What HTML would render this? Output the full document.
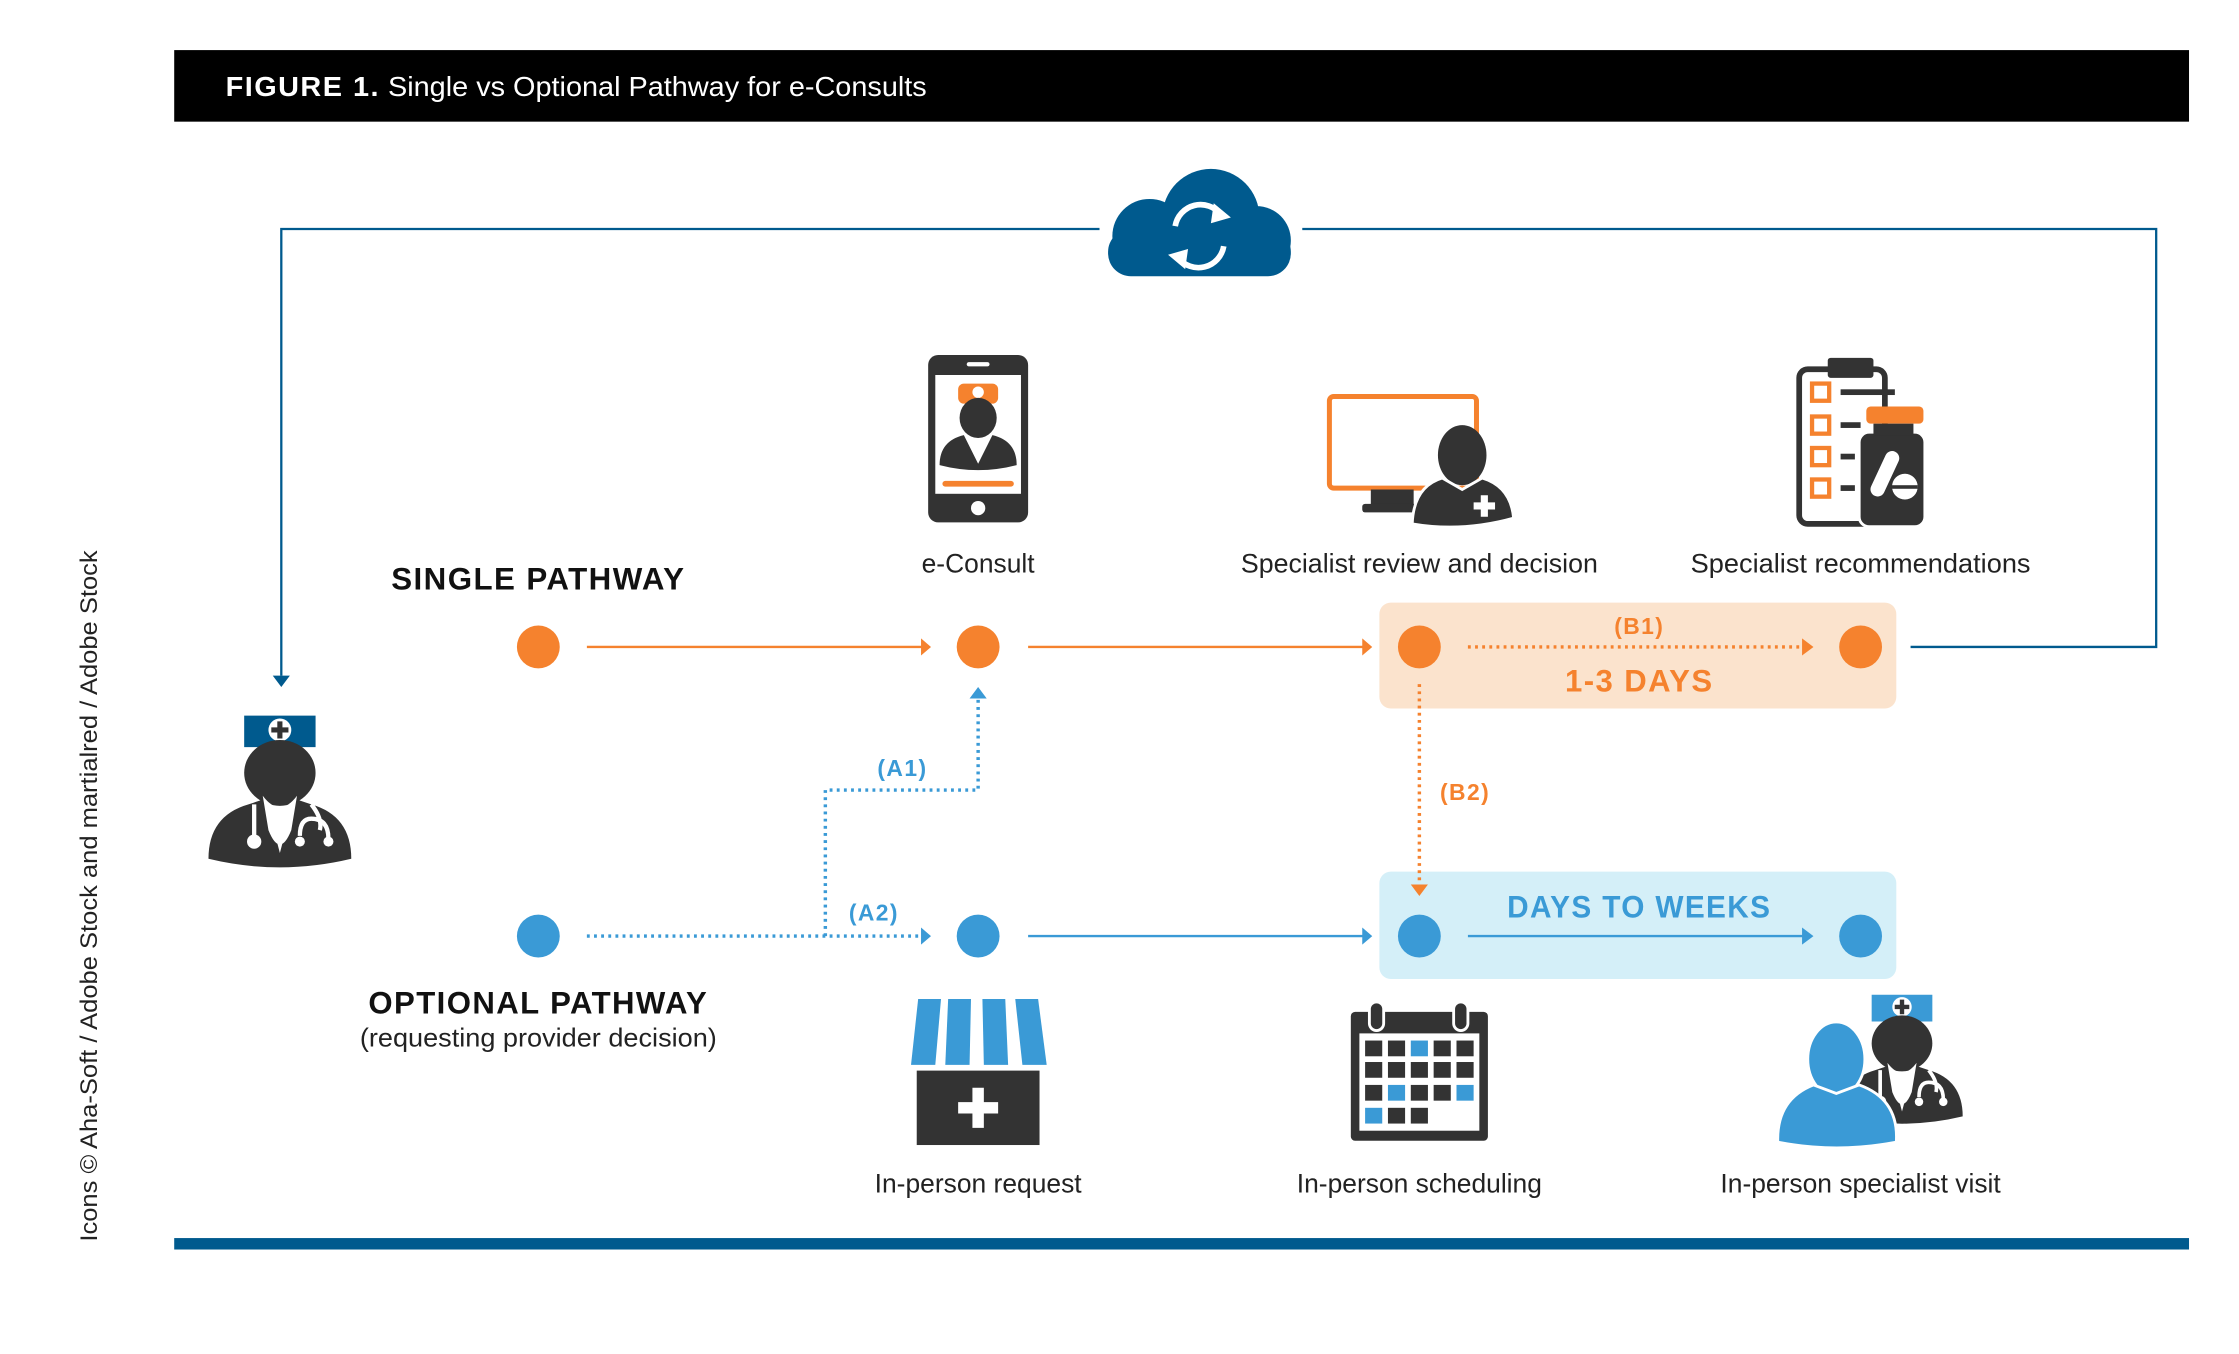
<!DOCTYPE html>
<html><head><meta charset="utf-8"><style>
html,body{margin:0;padding:0;background:#fff;}
svg{display:block;}
text{font-family:"Liberation Sans",sans-serif;}
</style></head><body>
<svg width="2239" height="1354" viewBox="0 0 1568 946" preserveAspectRatio="none" xmlns="http://www.w3.org/2000/svg">
<defs>
<g id="doc">
 <path d="M-25 0 h50 v22 h-50z" fill="var(--cap)"/>
 <circle cx="0" cy="10" r="8" fill="#fff"/>
 <path d="M-1.8 4h3.6v4.2h4.2v3.6h-4.2v4.2h-3.6v-4.2h-4.2v-3.6h4.2z" fill="#333"/>
 <path d="M-50 100 Q-50 70 -22 62 L-10 58 L0 96 L10 58 L22 62 Q50 70 50 100 Q0 112 -50 100z" fill="#333"/>
 <ellipse cx="0" cy="40" rx="25" ry="23" fill="#333"/>
 <path d="M-12 56 Q0 72 12 56 L8 80 Q0 100 -8 80z" fill="#fff"/>
 <path d="M-18 62 v22 M22 62 Q30 72 28 80 M14 84 Q14 72 22 72 Q34 72 34 86" stroke="#fff" stroke-width="3" fill="none"/>
 <circle cx="-18" cy="88" r="5" fill="#fff"/>
 <circle cx="14" cy="88" r="3.5" fill="#fff"/><circle cx="34" cy="88" r="3.5" fill="#fff"/>
</g>
</defs>

<rect x="122" y="35" width="1411" height="50" fill="#000"/>
<text x="158" y="67" fill="#fff" font-size="19.5" textLength="491" lengthAdjust="spacingAndGlyphs"><tspan font-weight="bold" letter-spacing="1">FIGURE 1.</tspan> Single vs Optional Pathway for e-Consults</text>

<rect x="122" y="865" width="1411" height="8" fill="#005a8e"/>

<text transform="translate(68,626) rotate(-90)" text-anchor="middle" font-size="17" fill="#222" textLength="483" lengthAdjust="spacingAndGlyphs">Icons © Aha-Soft / Adobe Stock and martialred / Adobe Stock</text>

<path d="M770 160 H197 V472" stroke="#005a8e" stroke-width="1.6" fill="none"/>
<path d="M191 472 L203 472 L197 480z" fill="#005a8e"/>
<path d="M912 160 H1510 V452 H1338" stroke="#005a8e" stroke-width="1.6" fill="none"/>

<g fill="#005a8e">
 <circle cx="848" cy="152" r="34"/>
 <circle cx="805" cy="165" r="26"/>
 <circle cx="880" cy="168" r="24"/>
 <rect x="776" y="160" width="128" height="33" rx="16"/>
</g>
<g stroke="#fff" stroke-width="4" fill="none">
 <path d="M823 158 A18 18 0 0 1 855 150"/>
 <path d="M857 172 A18 18 0 0 1 825 180"/>
</g>
<path d="M850 142 L862 152 L848 156z" fill="#fff"/>
<path d="M830 188 L818 178 L832 174z" fill="#fff"/>

<rect x="966" y="421" width="362" height="74" rx="8" fill="#fbe3cd"/>
<rect x="966" y="609" width="362" height="75" rx="8" fill="#d4eff8"/>

<text x="377" y="412" text-anchor="middle" font-size="22" font-weight="bold" letter-spacing="1" fill="#111" textLength="206" lengthAdjust="spacingAndGlyphs">SINGLE PATHWAY</text>
<g stroke="#f5822e" stroke-width="1.6" fill="none">
 <path d="M411 452 H646"/><path d="M720 452 H955"/>
 <path d="M1028 452 H1264" stroke-dasharray="2 3" stroke-width="2.4"/>
 <path d="M994 478 V616" stroke-dasharray="2 3" stroke-width="2.4"/>
</g>
<g fill="#f5822e">
 <path d="M645 446 L652 452 L645 458z"/><path d="M954 446 L961 452 L954 458z"/><path d="M1262 446 L1270 452 L1262 458z"/>
 <path d="M988 618 L1000 618 L994 626z"/>
 <circle cx="377" cy="452" r="15"/><circle cx="685" cy="452" r="15"/><circle cx="994" cy="452" r="15"/><circle cx="1303" cy="452" r="15"/>
</g>
<text x="1148" y="443" text-anchor="middle" font-size="16" font-weight="bold" fill="#f5822e" letter-spacing="1">(B1)</text>
<text x="1148" y="483" text-anchor="middle" font-size="22" font-weight="bold" fill="#f5822e" letter-spacing="1" textLength="104" lengthAdjust="spacingAndGlyphs">1-3 DAYS</text>
<text x="1026" y="559" text-anchor="middle" font-size="16" font-weight="bold" fill="#f5822e" letter-spacing="1">(B2)</text>

<g stroke="#3a9ad6" stroke-width="1.6" fill="none">
 <path d="M411 654 H646" stroke-dasharray="2 3" stroke-width="2.4"/>
 <path d="M578 654 V552 H685 V488" stroke-dasharray="2 3" stroke-width="2.4"/>
 <path d="M720 654 H955"/><path d="M1028 654 H1264"/>
</g>
<g fill="#3a9ad6">
 <path d="M645 648 L652 654 L645 660z"/><path d="M954 648 L961 654 L954 660z"/><path d="M1262 648 L1270 654 L1262 660z"/>
 <path d="M679 488 L691 488 L685 480z"/>
 <circle cx="377" cy="654" r="15"/><circle cx="685" cy="654" r="15"/><circle cx="994" cy="654" r="15"/><circle cx="1303" cy="654" r="15"/>
</g>
<text x="632" y="542" text-anchor="middle" font-size="16" font-weight="bold" fill="#3a9ad6" letter-spacing="1">(A1)</text>
<text x="612" y="643" text-anchor="middle" font-size="16" font-weight="bold" fill="#3a9ad6" letter-spacing="1">(A2)</text>
<text x="1148" y="641" text-anchor="middle" font-size="22" font-weight="bold" fill="#3a9ad6" letter-spacing="1" textLength="185" lengthAdjust="spacingAndGlyphs">DAYS TO WEEKS</text>

<text x="377" y="708" text-anchor="middle" font-size="22" font-weight="bold" letter-spacing="1" fill="#111" textLength="238" lengthAdjust="spacingAndGlyphs">OPTIONAL PATHWAY</text>
<text x="377" y="731" text-anchor="middle" font-size="18" fill="#222" textLength="250" lengthAdjust="spacingAndGlyphs">(requesting provider decision)</text>

<g font-size="18.5" fill="#222" text-anchor="middle">
 <text x="685" y="400">e-Consult</text>
 <text x="994" y="400" textLength="250" lengthAdjust="spacingAndGlyphs">Specialist review and decision</text>
 <text x="1303" y="400" textLength="238" lengthAdjust="spacingAndGlyphs">Specialist recommendations</text>
 <text x="685" y="833">In-person request</text>
 <text x="994" y="833">In-person scheduling</text>
 <text x="1303" y="833">In-person specialist visit</text>
</g>

<g transform="translate(196,500)" style="--cap:#005a8e"><use href="#doc"/></g>

<rect x="650" y="248" width="70" height="117" rx="7" fill="#333"/>
<rect x="655" y="262" width="60" height="83" fill="#fff"/>
<rect x="677" y="253" width="16" height="3" rx="1.5" fill="#fff"/>
<circle cx="685" cy="355" r="5" fill="#fff"/>
<rect x="671" y="268" width="28" height="14" rx="4" fill="#f5822e"/>
<circle cx="685" cy="274" r="4" fill="#fff"/>
<ellipse cx="685" cy="292" rx="13" ry="14" fill="#333"/>
<path d="M658 325 Q658 308 675 304 L685 324 L695 304 Q712 308 712 325 Q685 332 658 325z" fill="#333"/>
<rect x="660" y="336" width="50" height="4" rx="2" fill="#f5822e"/>

<rect x="931" y="277" width="103" height="64" rx="3" fill="none" stroke="#f5822e" stroke-width="3.5"/>
<rect x="960" y="342" width="30" height="12" fill="#333"/>
<rect x="954" y="352" width="40" height="6" rx="2" fill="#333"/>
<ellipse cx="1024" cy="318" rx="17" ry="21" fill="#333"/>
<path d="M989 366 Q990 340 1010 334 L1024 342 L1038 334 Q1058 340 1060 362 Q1024 372 989 366z" fill="#333" stroke="#fff" stroke-width="2"/>
<path d="M1037 346h5v5h5v5h-5v5h-5v-5h-5v-5h5z" fill="#fff"/>

<rect x="1260" y="258" width="60" height="108" rx="6" fill="none" stroke="#333" stroke-width="4"/>
<rect x="1280" y="250" width="32" height="14" rx="2" fill="#333"/>
<g fill="none" stroke="#f5822e" stroke-width="3">
 <rect x="1269" y="268" width="12" height="12"/><rect x="1269" y="291" width="12" height="12"/>
 <rect x="1269" y="313" width="12" height="12"/><rect x="1269" y="335" width="12" height="12"/>
</g>
<g fill="#333"><rect x="1289" y="272" width="38" height="4"/><rect x="1289" y="295" width="14" height="4"/><rect x="1289" y="317" width="10" height="4"/><rect x="1289" y="339" width="10" height="4"/></g>
<rect x="1307" y="284" width="40" height="12" rx="3" fill="#f5822e"/>
<rect x="1302" y="302" width="46" height="66" rx="7" fill="#333" stroke="#fff" stroke-width="2"/>
<rect x="1312" y="296" width="28" height="8" fill="#333"/>
<rect x="1315" y="314" width="10" height="34" rx="5" fill="#fff" transform="rotate(25 1320 331)"/>
<circle cx="1334" cy="340" r="9" fill="#fff"/>
<rect x="1325" y="339" width="18" height="2.5" fill="#333"/>

<g fill="#3a9ad6">
 <path d="M643 698 h16 l-4 46 h-17z"/><path d="M664 698 h16 l-1 46 h-17z"/>
 <path d="M688 698 h16 l2 46 h-17z"/><path d="M711 698 h16 l6 46 h-17z"/>
</g>
<rect x="642" y="748" width="86" height="52" fill="#333"/>
<path d="M681 760h8v10h10v8h-10v10h-8v-10h-10v-8h10z" fill="#fff"/>

<rect x="946" y="707" width="96" height="90" rx="3" fill="#333"/>
<rect x="952" y="722" width="84" height="68" fill="#fff"/>
<rect x="959" y="700" width="10" height="20" rx="5" fill="#333" stroke="#fff" stroke-width="2"/>
<rect x="1018" y="700" width="10" height="20" rx="5" fill="#333" stroke="#fff" stroke-width="2"/>
<g fill="#333">
 <rect x="956" y="727" width="12" height="11"/><rect x="972" y="727" width="12" height="11"/><rect x="1004" y="727" width="12" height="11"/><rect x="1020" y="727" width="12" height="11"/>
 <rect x="956" y="742" width="12" height="11"/><rect x="972" y="742" width="12" height="11"/><rect x="988" y="742" width="12" height="11"/><rect x="1004" y="742" width="12" height="11"/><rect x="1020" y="742" width="12" height="11"/>
 <rect x="956" y="758" width="12" height="11"/><rect x="988" y="758" width="12" height="11"/><rect x="1004" y="758" width="12" height="11"/>
 <rect x="972" y="774" width="12" height="11"/><rect x="988" y="774" width="12" height="11"/>
</g>
<g fill="#3a9ad6">
 <rect x="988" y="727" width="12" height="11"/><rect x="972" y="758" width="12" height="11"/><rect x="1020" y="758" width="12" height="11"/><rect x="956" y="774" width="12" height="11"/>
</g>

<g transform="translate(1332,695) scale(0.85)" style="--cap:#3a9ad6"><use href="#doc"/></g>
<ellipse cx="1286" cy="740" rx="20" ry="26" fill="#3a9ad6" stroke="#fff" stroke-width="2"/>
<path d="M1245 798 Q1244 768 1270 758 L1286 764 L1302 758 Q1330 768 1328 798 Q1286 806 1245 798z" fill="#3a9ad6" stroke="#fff" stroke-width="2"/>
</svg>
</body></html>
